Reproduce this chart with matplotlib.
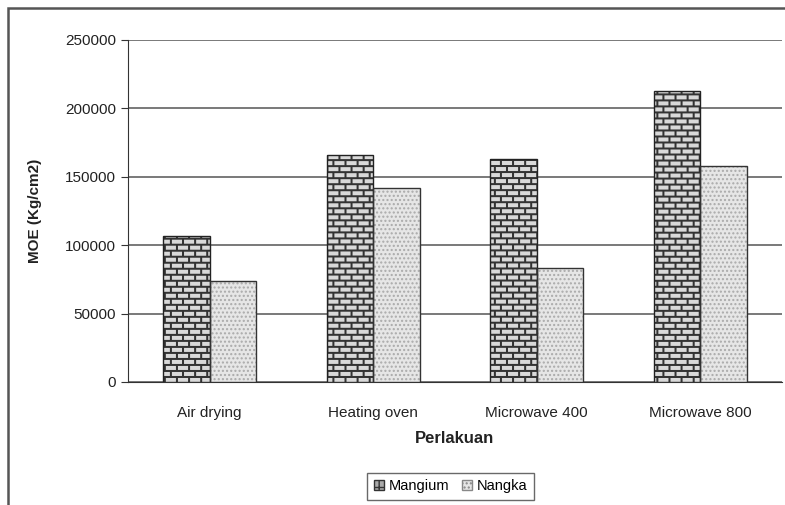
import numpy as np
import matplotlib.pyplot as plt
from matplotlib.patches import Rectangle, Patch

plt.rcParams['font.family'] = ['Liberation Sans', 'DejaVu Sans']

perlakuan = ['Air drying', 'Heating oven', 'Microwave 400', 'Microwave 800']
mangium = [106500, 166000, 163000, 213000]
nangka = [74000, 142000, 83000, 158000]

W_IN, H_IN, DPI = 7.85, 5.05, 100
fig = plt.figure(figsize=(W_IN, H_IN), dpi=DPI)
box = [0.163, 0.2436, 0.833, 0.6774]
ax = fig.add_axes(box)

x = np.arange(len(perlakuan))
w = 0.285
ax.set_xlim(-0.5, 3.5)
ax.set_ylim(0, 250000)


def brick_texture(width, height, brick_w=12, brick_h=6, mortar_px=2):
    # light bricks separated by dark mortar, alternate rows shifted half a brick
    r = np.arange(height)[:, None]
    c = np.arange(width)[None, :]
    shift = (r // brick_h) % 2 * (brick_w // 2)
    mortar = (r % brick_h < mortar_px) | ((c + shift) % brick_w < mortar_px)
    return np.where(mortar, 0.2, 0.85)


px_w = int(round(box[2] * W_IN * DPI))
px_h = int(round(box[3] * H_IN * DPI))
tex = brick_texture(px_w, px_h)

m_bars = ax.bar(x - w / 2, mangium, w, fill=False, edgecolor='#222222', linewidth=1, zorder=4)
for b in m_bars:
    im = ax.imshow(tex, cmap='gray', vmin=0, vmax=1, aspect='auto',
                   extent=(-0.5, 3.5, 0, 250000), interpolation='bilinear', zorder=3)
    im.set_clip_path(b)

ax.bar(x + w / 2, nangka, w, facecolor='#e6e6e6', edgecolor='#aaaaaa',
       hatch='....', linewidth=0, zorder=3)
ax.bar(x + w / 2, nangka, w, fill=False, edgecolor='#333333', linewidth=1, zorder=4)

ax.set_yticks(np.arange(0, 250001, 50000))
ax.set_xticks(x)
ax.set_xticklabels(perlakuan, fontsize=11, color='#222222')
ax.tick_params(axis='y', labelsize=11, labelcolor='#222222', length=5, color='#333333')
ax.tick_params(axis='x', length=0, pad=17)
ax.yaxis.grid(True, color='#555555', linewidth=1.1)
ax.set_axisbelow(True)
for s in ['top', 'right']:
    ax.spines[s].set_visible(False)
ax.spines['left'].set_color('#333333')
ax.spines['bottom'].set_color('#333333')

ax.set_ylabel('MOE (Kg/cm2)', fontsize=11, fontweight='bold', color='#222222', labelpad=17)
ax.set_xlabel('Perlakuan', fontsize=12, fontweight='bold', color='#222222', labelpad=8)

handles = [Patch(facecolor='#aaaaaa', edgecolor='#333333', hatch='++'),
           Patch(facecolor='#e6e6e6', edgecolor='#888888', hatch='....')]
fig.legend(handles, ['Mangium', 'Nangka'], loc='center', bbox_to_anchor=(0.574, 0.037),
           ncol=2, fontsize=10.5, frameon=True, fancybox=False, edgecolor='#444444',
           handlelength=0.7, handleheight=0.7, handletextpad=0.3, columnspacing=0.9,
           borderpad=0.45)

# outer chart frame
fig.patches.append(Rectangle((8 / 785, -0.01), 1.0, 1 - 8 / 505 + 0.01,
                             transform=fig.transFigure, fill=False,
                             edgecolor='#555555', linewidth=1.8))

fig.savefig('out.png', dpi=DPI)
